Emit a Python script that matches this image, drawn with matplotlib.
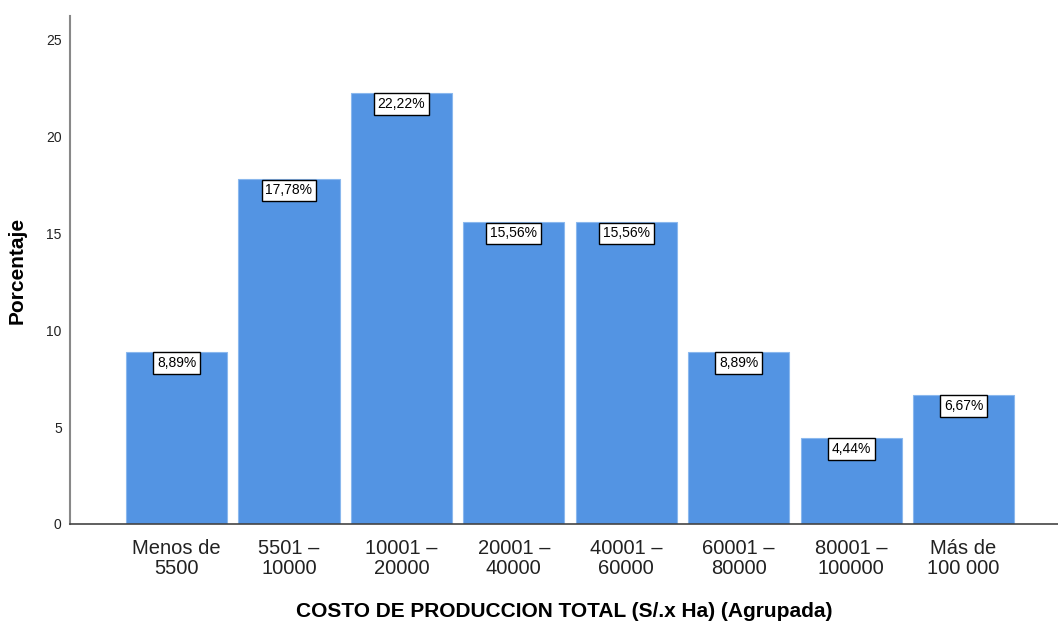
import matplotlib.pyplot as plt
import numpy as np

# Production cost groups and their share of producers (%)
categorias = ['Menos de\n5500', '5501 –\n10000', '10001 –\n20000', '20001 –\n40000',
              '40001 –\n60000', '60001 –\n80000', '80001 –\n100000', 'Más de\n100 000']
porcentajes = [8.89, 17.78, 22.22, 15.56, 15.56, 8.89, 4.44, 6.67]
yticks = [0, 5, 10, 15, 20, 25]

plt.rcParams['font.family'] = ['Liberation Sans', 'DejaVu Sans']

fig = plt.figure(figsize=(10.58, 6.21), dpi=100)
ax = fig.add_axes([0.0662, 0.1562, 0.9338, 0.818])

x = np.arange(len(categorias))
bars = ax.bar(x, porcentajes, width=0.9, color='#5394e3', edgecolor='#8ab8ee', linewidth=0.8)

for xi, v in zip(x, porcentajes):
    ax.annotate(f'{v:.2f}%'.replace('.', ','), xy=(xi, v), xytext=(0, -3),
                textcoords='offset points', ha='center', va='top', fontsize=10,
                bbox=dict(boxstyle='square,pad=0.28', fc='white', ec='black', lw=1))

ax.set_xlim(-0.947, 7.84)
ax.set_ylim(0, 26.2)
ax.set_yticks(yticks)
ax.set_xticks(x)
ax.set_xticklabels(categorias, fontsize=14.5, linespacing=1.05, color='#222222')
ax.tick_params(axis='y', length=0, labelsize=10, pad=6, colors='#222222')
ax.tick_params(axis='x', length=0, pad=11)

for s in ['top', 'right']:
    ax.spines[s].set_visible(False)
ax.spines['left'].set_color('#888888')
ax.spines['left'].set_linewidth(1.5)
ax.spines['bottom'].set_color('#444444')
ax.spines['bottom'].set_linewidth(1.2)

ax.set_xlabel('COSTO DE PRODUCCION TOTAL (S/.x Ha) (Agrupada)', fontsize=15,
              fontweight='bold', labelpad=17)
ax.set_ylabel('Porcentaje', fontsize=15, fontweight='bold', labelpad=14)

fig.savefig('out.png', dpi=100)
